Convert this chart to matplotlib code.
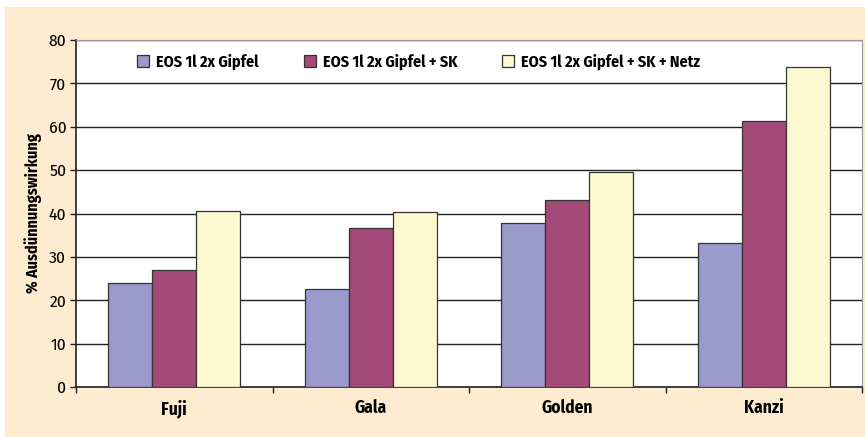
import matplotlib.pyplot as plt
import numpy as np
from matplotlib.patches import Rectangle

plt.rcParams['font.family'] = ['Fira Sans Condensed', 'DejaVu Sans']
plt.rcParams['font.weight'] = 'bold'
plt.rcParams['axes.labelweight'] = 'bold'

#data
sorten = ["Fuji", "Gala", "Golden", "Kanzi"]
serien = ["EOS 1l 2x Gipfel", "EOS 1l 2x Gipfel + SK", "EOS 1l 2x Gipfel + SK + Netz"]
gipfel = [24.0, 22.5, 37.9, 33.2]
gipfel_sk = [27.0, 36.6, 43.2, 61.4]
gipfel_sk_netz = [40.5, 40.4, 49.5, 73.7]
farben = ["#9999cc", "#a34a78", "#fcf8d0"]

fig = plt.figure(figsize=(8.65, 4.37), dpi=100)
fig.patch.set_facecolor("white")
fig.patches.append(Rectangle((5/865, 0), 860/865, 430/437, transform=fig.transFigure,
                             facecolor="#fdecd0", edgecolor="none", zorder=-10))

ax = fig.add_axes([76/865, 50/437, 786/865, 347/437])
ax.set_facecolor("white")

x = np.arange(len(sorten))
w = 0.224
for i, werte in enumerate([gipfel, gipfel_sk, gipfel_sk_netz]):
    ax.bar(x + (i - 1) * w, werte, w, color=farben[i], edgecolor="#333333",
           linewidth=0.9, label=serien[i], zorder=3)

ax.set_xlim(-0.5, 3.5)
ax.set_ylim(0, 80)
ax.set_yticks(range(0, 81, 10))
ax.yaxis.grid(True, color="#222222", linewidth=1.0, zorder=0)
ax.set_axisbelow(True)
ax.set_xticks(x)
ax.set_xticklabels(sorten, fontsize=12.5)
ax.set_xticks(np.arange(-0.5, 4, 1), minor=True)
ax.tick_params(axis="x", which="major", length=0, pad=9)
ax.tick_params(axis="x", which="minor", length=4, width=1, color="#222222")
ax.tick_params(axis="y", length=4, width=1, color="#222222", labelsize=12.5, pad=3)
for lbl in ax.get_yticklabels():
    lbl.set_fontweight("normal")

for s in ["top", "right"]:
    ax.spines[s].set_color("#999999")
for s in ["left", "bottom"]:
    ax.spines[s].set_color("#222222")
    ax.spines[s].set_linewidth(1.2)

ax.set_ylabel("% Ausdünnungswirkung", fontsize=11.5, labelpad=5)

ax.legend(loc="center", bbox_to_anchor=(0.436, 0.937), ncol=3, frameon=False,
          fontsize=11.5, handlelength=0.75, handleheight=0.75, columnspacing=2.8,
          handletextpad=0.45)

fig.savefig("out.png", dpi=100)
